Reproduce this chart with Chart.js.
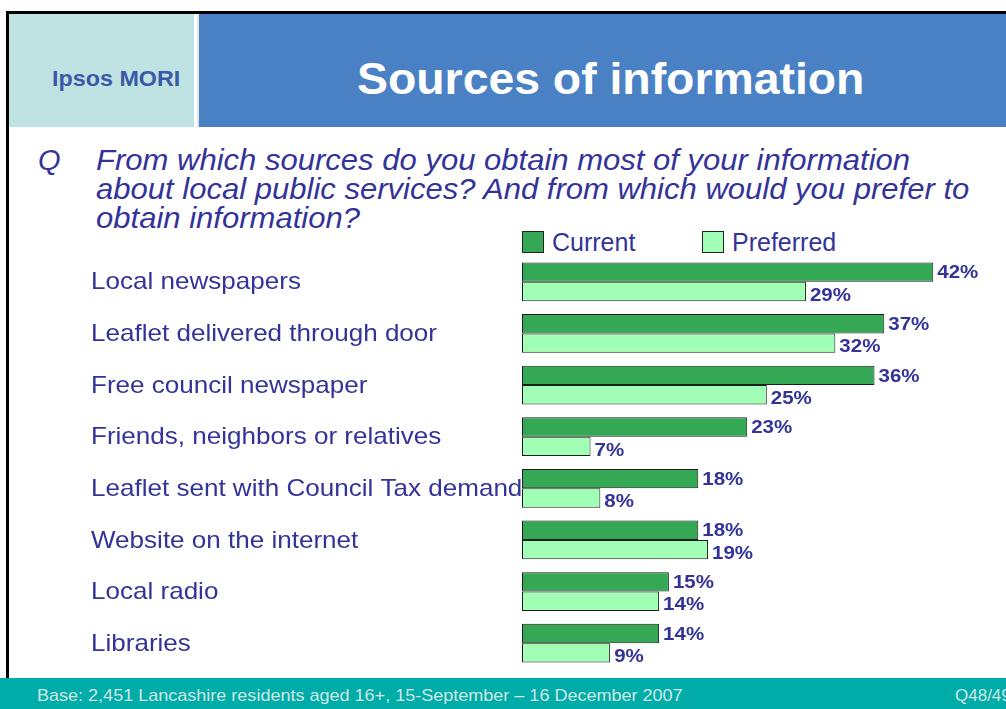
<!DOCTYPE html>
<html>
<head>
<meta charset="utf-8">
<script src="https://cdn.jsdelivr.net/npm/chart.js@4"></script>
<style>
  html, body { margin: 0; padding: 0; background: #fff; }
  body { width: 1006px; height: 709px; position: relative; overflow: hidden; font-family: "Liberation Sans", Arial, sans-serif; }
  .frame-top { position: absolute; left: 6px; top: 11px; width: 1000px; height: 3px; background: #000; }
  .frame-left { position: absolute; left: 6px; top: 11px; width: 3px; height: 667px; background: #000; }
  .logo-box { position: absolute; left: 9px; top: 14px; width: 185px; height: 113px; background: #bfe2e2; }
  .logo-box span { position: absolute; left: 43px; top: 52px; font-size: 22px; font-weight: bold; color: #3b59a6; transform: scaleX(1.06); transform-origin: left; }
  .title-box { position: absolute; left: 197px; top: 14px; width: 809px; height: 113px; background: #4a81c4; border-left: 2px solid #dfe9f2; box-sizing: border-box; }
  .title-box h1 { margin: 0; position: absolute; left: 0; right: 0; top: 40px; text-align: center; font-size: 45px; font-weight: bold; color: #fff; line-height: 50px; padding-left: 16px; transform: scaleX(1.03); }
  .question { position: absolute; left: 38px; top: 146px; font-size: 29px; font-style: italic; color: #333399; line-height: 29px; }
  .question .q { position: absolute; left: 0; top: 0; }
  .question .txt { position: absolute; left: 58px; top: 0; width: 900px; white-space: nowrap; transform: scaleX(1.07); transform-origin: left top; }
  .legend { position: absolute; top: 231px; font-size: 25px; color: #333399; line-height: 22px; }
  .legend i { display: inline-block; width: 20px; height: 20px; border: 1px solid #222; vertical-align: top; margin-right: 8px; }
  .footer { position: absolute; left: 0; top: 678px; width: 1006px; height: 31px; background: #00aca7; color: #cfe6e4; font-size: 17px; }
  .footer .base { position: absolute; left: 37px; top: 8px; transform: scaleX(1.06); transform-origin: left; white-space: nowrap; }
  .footer .ref { position: absolute; left: 955px; top: 8px; white-space: nowrap; }
  #chart { position: absolute; left: 0; top: 0; }
</style>
</head>
<body>
<div class="frame-top"></div>
<div class="frame-left"></div>
<div class="logo-box"><span>Ipsos MORI</span></div>
<div class="title-box"><h1>Sources of information</h1></div>
<div class="question">
  <span class="q">Q</span>
  <span class="txt">From which sources do you obtain most of your information<br>about local public services? And from which would you prefer to<br>obtain information?</span>
</div>
<div class="legend" style="left:522px"><i style="background:#35a855"></i>Current</div>
<div class="legend" style="left:702px"><i style="background:#a0ffb4"></i>Preferred</div>
<canvas id="chart" width="1006" height="709"></canvas>
<div class="footer">
  <span class="base">Base: 2,451 Lancashire residents aged 16+, 15-September – 16 December 2007</span>
  <span class="ref">Q48/49</span>
</div>

<script>
const sources = [
  "Local newspapers",
  "Leaflet delivered through door",
  "Free council newspaper",
  "Friends, neighbors or relatives",
  "Leaflet sent with Council Tax demand",
  "Website on the internet",
  "Local radio",
  "Libraries",
];
const current = [42, 37, 36, 23, 18, 18, 15, 14];
const preferred = [29, 32, 25, 7, 8, 19, 14, 9];

const textColor = "#333399";

// text a little wider than the plain font, like the slide deck
function wideText(ctx, text, x, y, stretch) {
  ctx.save();
  ctx.translate(x, y);
  ctx.scale(stretch, 1);
  ctx.fillText(text, 0, 0);
  ctx.restore();
}

// category names on the left, placed with the y scale
const categoryLabels = {
  id: "categoryLabels",
  afterDraw(chart) {
    const { ctx } = chart;
    const y = chart.scales.y;
    ctx.save();
    ctx.font = "24px 'Liberation Sans', Arial, sans-serif";
    ctx.fillStyle = textColor;
    ctx.textAlign = "left";
    ctx.textBaseline = "middle";
    chart.data.labels.forEach((label, i) => {
      wideText(ctx, label, 91, y.getPixelForValue(i) + 1, 1.085);
    });
    ctx.restore();
  },
};

// percentage at the end of every bar
const valueLabels = {
  id: "valueLabels",
  afterDatasetsDraw(chart) {
    const { ctx } = chart;
    ctx.save();
    ctx.font = "bold 19px 'Liberation Sans', Arial, sans-serif";
    ctx.fillStyle = textColor;
    ctx.textAlign = "left";
    ctx.textBaseline = "middle";
    chart.data.datasets.forEach((ds, di) => {
      const meta = chart.getDatasetMeta(di);
      meta.data.forEach((bar, i) => {
        const dy = di === 0 ? 1 : 4;
        wideText(ctx, ds.data[i] + "%", bar.x + 4, bar.y + dy, 1.08);
      });
    });
    ctx.restore();
  },
};

const ctx = document.getElementById("chart");
const chart = new Chart(ctx, {
  type: "bar",
  data: {
    labels: sources,
    datasets: [
      {
        label: "Current",
        data: current,
        backgroundColor: "#35a855",
        borderColor: "#1e1e1e",
        borderWidth: 1,
        borderSkipped: false,
      },
      {
        label: "Preferred",
        data: preferred,
        backgroundColor: "#a0ffb4",
        borderColor: "#1e1e1e",
        borderWidth: 1,
        borderSkipped: false,
      },
    ],
  },
  options: {
    indexAxis: "y",
    responsive: false,
    animation: false,
    devicePixelRatio: 1,
    layout: {
      padding: { left: 522, right: 14, top: 256, bottom: 40 },
    },
    datasets: {
      bar: {
        categoryPercentage: 0.75,
        barPercentage: 1,
      },
    },
    plugins: {
      legend: { display: false },
      tooltip: { enabled: false },
    },
    scales: {
      x: {
        display: false,
        min: 0,
        max: 48,
      },
      y: {
        display: false,
      },
    },
  },
  plugins: [categoryLabels, valueLabels],
});
</script>
</body>
</html>
